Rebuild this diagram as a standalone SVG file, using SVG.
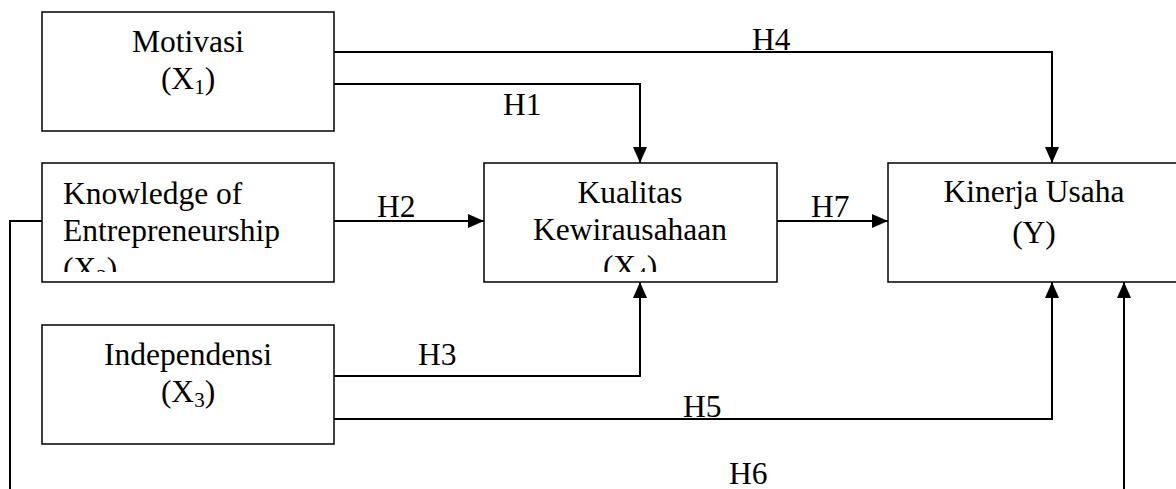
<svg xmlns="http://www.w3.org/2000/svg" width="1176" height="489" viewBox="0 0 1176 489">
<style>
.box{fill:#fff;stroke:#000;stroke-width:1.5}
.t{font-family:"Liberation Serif",Tinos,"Times New Roman","DejaVu Serif",serif;font-size:31.5px;fill:#000}
.c{text-anchor:middle}
.sub{font-size:21px}
.ln{fill:none;stroke:#000;stroke-width:2;marker-end:url(#ah)}
</style>
<defs>
<marker id="ah" markerUnits="userSpaceOnUse" markerWidth="16" markerHeight="14" refX="16" refY="7" orient="auto">
<path d="M0,0 L16,7 L0,14 z" fill="#000"/>
</marker>
<clipPath id="clipK"><rect x="42" y="163" width="292" height="109"/></clipPath>
<clipPath id="clipQ"><rect x="484" y="163" width="293" height="109"/></clipPath>
</defs>
<rect width="1176" height="489" fill="#fff"/>
<g id="connectors">
<path class="ln" d="M334,52 H1052 V163"/>
<path class="ln" d="M334,84 H640 V163"/>
<path class="ln" d="M334,221 H484"/>
<path class="ln" d="M777,221 H888"/>
<path class="ln" d="M334,376 H640 V282"/>
<path class="ln" d="M334,419 H1052 V282"/>
<path class="ln" d="M42,221 H10 V520 H1124 V282"/>
<text class="t" x="752" y="50">H4</text>
<text class="t" x="503" y="115">H1</text>
<text class="t" x="377" y="217">H2</text>
<text class="t" x="811" y="217">H7</text>
<text class="t" x="418" y="365">H3</text>
<text class="t" x="683" y="417">H5</text>
<text class="t" x="729" y="484">H6</text>
</g>
<g id="motivasi">
<rect class="box" x="42" y="12" width="292" height="119"/>
<text class="t c" x="188" y="52">Motivasi</text>
<text class="t c" x="188" y="89">(X<tspan class="sub" dy="5">1</tspan><tspan dy="-5">)</tspan></text>
</g>
<g id="knowledge">
<rect class="box" x="42" y="163" width="292" height="119"/>
<g clip-path="url(#clipK)">
<text class="t" x="63" y="204">Knowledge of</text>
<text class="t" x="63" y="241">Entrepreneurship</text>
<text class="t" x="63" y="279">(X<tspan class="sub" dy="5">2</tspan><tspan dy="-5">)</tspan></text>
</g>
</g>
<g id="independensi">
<rect class="box" x="42" y="325" width="292" height="119"/>
<text class="t c" x="188" y="365">Independensi</text>
<text class="t c" x="188" y="402">(X<tspan class="sub" dy="5">3</tspan><tspan dy="-5">)</tspan></text>
</g>
<g id="kualitas">
<rect class="box" x="484" y="163" width="293" height="119"/>
<g clip-path="url(#clipQ)">
<text class="t c" x="630" y="203">Kualitas</text>
<text class="t c" x="630" y="240">Kewirausahaan</text>
<text class="t c" x="630" y="277">(X<tspan class="sub" dy="5">4</tspan><tspan dy="-5">)</tspan></text>
</g>
</g>
<g id="kinerja">
<rect class="box" x="888" y="163" width="300" height="119"/>
<text class="t c" x="1034" y="202">Kinerja Usaha</text>
<text class="t c" x="1034" y="243">(Y)</text>
</g>
</svg>
